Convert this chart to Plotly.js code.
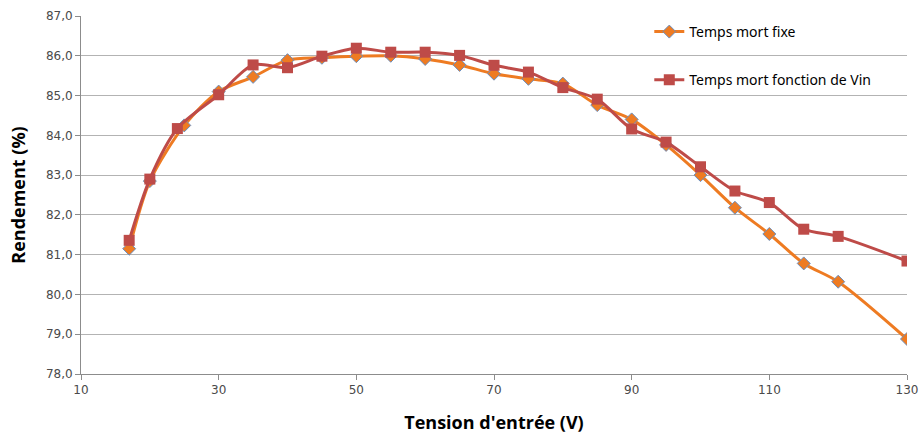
<!DOCTYPE html>
<html>
<head>
<meta charset="utf-8">
<script src="https://cdn.plot.ly/plotly-3.0.1.min.js"></script>
<style>
html,body{margin:0;padding:0;background:#fff;}
#chart{width:922px;height:434px;}
</style>
</head>
<body>
<div id="chart"></div>
<script>
var xFixe = [17, 20, 25, 30, 35, 40, 45, 50, 55, 60, 65, 70, 75, 80, 85, 90, 95, 100, 105, 110, 115, 120, 130];
var yFixe = [81.15, 82.85, 84.25, 85.1, 85.47, 85.89, 85.95, 85.99, 86.0, 85.92, 85.77, 85.55, 85.42, 85.3, 84.76, 84.4, 83.76, 83.0, 82.18, 81.52, 80.78, 80.32, 78.88];
var xVin = [17, 20, 24, 30, 35, 40, 45, 50, 55, 60, 65, 70, 75, 80, 85, 90, 95, 100, 105, 110, 115, 120, 130];
var yVin = [81.36, 82.9, 84.17, 85.02, 85.77, 85.7, 85.99, 86.19, 86.09, 86.09, 86.01, 85.76, 85.59, 85.2, 84.91, 84.16, 83.83, 83.21, 82.6, 82.31, 81.64, 81.46, 80.84];
var nameFixe = "Temps mort fixe";
var nameVin = "Temps mort fonction de Vin";
var xTitle = "Tension d'entrée (V)";
var yTitle = "Rendement (%)";

var traces = [
  {
    x: xFixe, y: yFixe, name: nameFixe, type: "scatter", mode: "lines+markers",
    legendgroup: "a",
    line: {color: "#EE7B22", width: 3, shape: "spline", smoothing: 0.8},
    marker: {symbol: "diamond", size: 10, color: "#EE7B22", line: {color: "#6A8FC0", width: 1}}
  },
  {
    x: xVin, y: yVin, name: nameVin, type: "scatter", mode: "lines+markers",
    legendgroup: "b",
    line: {color: "#BE4B48", width: 3, shape: "spline", smoothing: 0.8},
    marker: {symbol: "square", size: 11, color: "#BE4B48", line: {color: "#BE4B48", width: 0}}
  }
];

var layout = {
  width: 922, height: 434,
  margin: {l: 81, r: 15, t: 16, b: 60},
  paper_bgcolor: "#ffffff", plot_bgcolor: "#ffffff",
  separators: ", ",
  showlegend: true,
  legend: {
    x: 0.688, y: 1.0, xanchor: "left", yanchor: "top",
    bgcolor: "rgba(255,255,255,0)",
    font: {family: "Noto Sans, Open Sans, sans-serif", size: 14, color: "#000"},
    tracegroupgap: 27,
    itemwidth: 30
  },
  xaxis: {
    range: [10, 130], tickvals: [10, 30, 50, 70, 90, 110, 130],
    showgrid: false, zeroline: false,
    showline: true, linecolor: "#8C8C8C", linewidth: 1,
    ticks: "outside", ticklen: 5, tickcolor: "#8C8C8C",
    tickfont: {family: "DejaVu Sans, Verdana, sans-serif", size: 12, color: "#4A4A4A"},
    title: {text: xTitle, font: {family: "Open Sans, Noto Sans, sans-serif", size: 18, color: "#000", weight: "bold"}, standoff: 20}
  },
  yaxis: {
    range: [78, 87], dtick: 1, tick0: 78, tickformat: ".1f",
    showgrid: true, gridcolor: "#B3B3B3", gridwidth: 1, zeroline: false,
    showline: true, linecolor: "#8C8C8C", linewidth: 1,
    ticks: "outside", ticklen: 5, tickcolor: "#8C8C8C",
    tickfont: {family: "DejaVu Sans, Verdana, sans-serif", size: 12, color: "#4A4A4A"},
    title: {text: yTitle, font: {family: "Open Sans, Noto Sans, sans-serif", size: 18, color: "#000", weight: "bold"}, standoff: 15}
  }
};

Plotly.newPlot("chart", traces, layout, {displayModeBar: false, staticPlot: true});
</script>
</body>
</html>
